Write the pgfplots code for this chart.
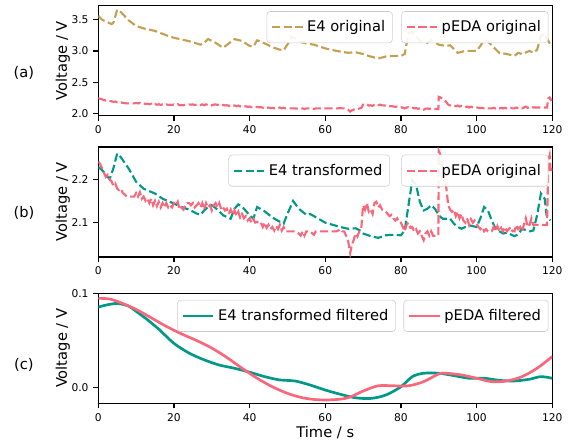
\documentclass[border=0pt]{standalone}
\usepackage{fontspec}
\setmainfont{DejaVu Sans}
\usepackage{pgfplots}
\pgfplotsset{compat=1.18}
\definecolor{cgold}{RGB}{196,160,84}
\definecolor{cteal}{RGB}{0,153,136}
\definecolor{cpink}{RGB}{250,102,122}

\pgfplotsset{
  panel/.style={
    scale only axis, width=340.5pt, height=82.5pt,
    anchor=north west,
    xmin=0, xmax=120, xtick={0,20,...,120},
    axis line style={line width=0.9pt},
    every tick/.style={black, line width=0.9pt},
    tick align=outside, major tick length=3.8pt,
    tick pos=left,
    /pgf/number format/assume math mode=true,
    tick label style={font=\fontsize{8}{9}\selectfont},
    clip mode=individual,
    legend cell align=left,
    legend image code/.code={\draw[##1] (0pt,0pt) -- (23pt,0pt);},
    legend style={anchor=north east, draw=black!20, rounded corners=2.5pt,
      fill=white, fill opacity=0.9, text opacity=1,
      font=\fontsize{11}{13}\selectfont, inner xsep=3pt, inner ysep=4.3pt,
      nodes={inner sep=2.5pt}},
    ylabel style={font=\fontsize{11}{13}\selectfont},
  },
  over/.style={panel, hide axis},
  dsh/.style={line width=1.6pt, dash pattern=on 6.2pt off 2.6pt},
  sld/.style={line width=2pt},
}

\pgfplotstableread{
t v
0 3.563
1 3.50
3.5 3.43
4 3.45
5 3.66
6 3.62
8 3.49
10 3.40
12 3.36
15 3.32
18 3.25
20 3.21
23 3.17
25 3.14
27 3.10
28 3.13
29 3.19
31 3.13
33 3.05
34.5 3.12
36 3.19
38 3.16
40 3.08
41 3.07
42 3.17
44 3.12
46 3.06
48 3.02
49 3.01
50.5 3.15
51 3.23
52 3.20
53 3.15
55 3.12
57 3.10
60 3.04
63 3.00
66 2.97
68 2.98
70 2.95
72 2.91
74 2.88
76 2.91
78 2.92
80 2.92
81 2.95
82 3.29
83 3.30
85 3.16
87 3.13
88 3.17
90 3.10
92 3.08
93 3.09
95 2.97
97 3.00
100 3.00
101 3.08
102 3.18
103 3.15
105 3.03
106 2.97
108 2.95
110 2.92
111 2.97
112 2.95
114 3.00
115 2.97
116 3.02
117 3.24
118 3.27
119.5 3.10
}\EfourOrig

\pgfplotstableread{
t v
0 2.228
1 2.221
3 2.200
4 2.225
5 2.259
6 2.250
8 2.225
10 2.194
12 2.178
15 2.167
17 2.155
20 2.144
22 2.136
24 2.130
26 2.121
27 2.118
28 2.128
29 2.136
30 2.140
31 2.134
33 2.117
35 2.109
36 2.132
37 2.142
38 2.137
40 2.117
41 2.109
42 2.136
44 2.126
46 2.112
48 2.102
49 2.098
50 2.120
51.5 2.150
53 2.132
55 2.118
56 2.120
58 2.110
60 2.100
62 2.095
64 2.090
66 2.086
68 2.087
69 2.083
70 2.075
72 2.069
74 2.065
76 2.071
78 2.072
80 2.071
81 2.082
82 2.140
83 2.198
84 2.187
85 2.148
86 2.128
87 2.132
88 2.140
89 2.132
90 2.117
91 2.109
93 2.109
94 2.098
95 2.090
96 2.086
98 2.094
100 2.090
101 2.110
102 2.136
103 2.128
104 2.105
105 2.086
107 2.075
108 2.077
110 2.069
111 2.073
112 2.086
114 2.080
115 2.082
116 2.117
117 2.167
118 2.155
118.5 2.117
119.5 2.105
}\EfourTrans

\pgfplotstableread{
t v
0 2.240
0.5 2.235
1 2.225
1.5 2.215
2 2.205
2.5 2.210
3 2.200
3.5 2.195
4 2.185
4.5 2.190
5 2.178
5.5 2.175
6 2.178
6.5 2.168
7 2.165
7.5 2.160
8 2.160
9 2.160
9.5 2.160
10 2.168
10.5 2.160
11 2.170
11.5 2.155
12 2.160
12.5 2.150
13 2.155
13.5 2.145
14 2.155
14.5 2.140
15 2.150
15.5 2.138
16 2.148
16.5 2.135
17 2.145
17.5 2.135
18 2.145
18.5 2.135
19 2.140
19.5 2.135
20 2.145
20.5 2.140
21 2.148
21.5 2.130
22 2.135
22.5 2.130
23 2.140
23.5 2.145
24 2.145
24.5 2.140
25 2.145
25.5 2.135
26 2.140
26.5 2.145
27 2.135
27.5 2.145
28 2.130
28.5 2.145
29 2.135
29.5 2.140
30 2.128
30.5 2.140
31 2.145
31.5 2.135
32 2.145
32.5 2.130
33 2.135
33.5 2.128
34 2.132
34.5 2.120
35 2.130
35.5 2.118
36 2.128
36.5 2.115
37 2.125
37.5 2.112
38 2.120
38.5 2.110
39 2.115
39.5 2.105
40 2.110
40.5 2.100
41 2.108
41.5 2.100
42 2.102
42.5 2.098
43 2.100
43.5 2.090
44 2.100
44.5 2.088
45 2.095
45.5 2.085
46 2.090
46.5 2.082
47 2.092
47.5 2.085
48 2.095
48.5 2.082
49 2.090
49.5 2.080
50 2.080
51 2.080
52 2.080
53 2.075
53.5 2.070
54 2.080
54.5 2.070
55 2.080
56 2.080
57 2.072
57.5 2.080
58 2.080
60 2.080
62 2.080
63 2.080
64 2.085
64.5 2.080
65 2.080
65.5 2.070
66 2.060
66.3 2.045
66.6 2.030
67 2.048
67.5 2.060
68 2.075
68.5 2.068
69 2.080
69.5 2.085
70 2.140
70.5 2.130
71 2.145
71.5 2.125
72 2.130
72.5 2.120
73 2.145
73.5 2.148
74 2.135
74.5 2.140
75 2.130
75.5 2.128
76 2.125
76.5 2.120
77 2.115
77.5 2.118
78 2.110
78.5 2.105
79 2.110
79.5 2.100
80 2.100
80.5 2.090
81 2.080
81.5 2.095
82 2.100
82.5 2.088
83 2.090
83.5 2.080
84 2.085
84.5 2.075
85 2.080
85.5 2.070
86 2.060
86.5 2.075
87 2.080
87.5 2.070
88 2.080
88.5 2.070
89 2.070
89.9 2.070
90 2.265
90.5 2.255
91 2.230
91.5 2.215
92 2.180
92.5 2.140
93 2.130
93.5 2.125
94 2.130
94.5 2.115
95 2.125
95.5 2.110
96 2.120
96.5 2.105
97 2.100
97.5 2.110
98 2.095
98.5 2.108
99 2.100
99.5 2.105
100 2.098
100.5 2.090
101 2.085
101.5 2.090
102 2.080
102.5 2.085
103 2.080
104 2.080
104.5 2.090
105 2.080
105.5 2.092
106 2.080
106.5 2.088
107 2.080
107.5 2.090
108 2.080
109 2.090
109.5 2.080
110 2.080
110.5 2.095
111 2.085
111.5 2.090
112 2.080
112.5 2.095
113 2.110
113.5 2.090
114 2.095
114.5 2.110
115 2.095
116 2.095
117 2.095
118.6 2.095
119 2.245
119.3 2.255
119.6 2.215
120 2.225
}\pEDAOrig

\pgfplotstableread{
t v
0 0.0854
2 0.0875
5 0.0893
8 0.0865
10 0.0810
13 0.0720
16 0.0620
20 0.0470
24 0.0367
28 0.0295
32 0.0240
36 0.0206
40 0.0164
44 0.0117
48 0.0082
52 0.0071
56 0.0028
60 -0.0025
64 -0.0070
68 -0.0107
72 -0.0114
76 -0.0078
80 0.0010
83 0.0117
86 0.0153
90 0.0153
94 0.0128
98 0.0100
102 0.0100
106 0.0078
110 0.0071
114 0.0090
117 0.0117
120 0.0100
}\EfourFilt

\pgfplotstableread{
t v
0 0.0947
3 0.0940
6 0.0900
10 0.0830
14 0.0740
18 0.0650
22 0.0570
26 0.0500
30 0.0420
34 0.0320
38 0.0206
42 0.0100
46 0.0010
50 -0.0060
54 -0.0107
58 -0.0128
62 -0.0128
66 -0.0107
70 -0.0036
74 0.0020
78 0.0020
82 0.0020
86 0.0064
90 0.0146
92 0.0153
96 0.0135
100 0.0100
104 0.0064
108 0.0071
112 0.0117
116 0.0206
120 0.0330
}\pEDAFilt

\begin{document}
\begin{tikzpicture}
\useasboundingbox (0,0) rectangle (434.25pt,-333pt);

% ---------- (a)
\begin{axis}[panel, at={(73.7pt,-4.3pt)},
  ymin=1.963, ymax=3.723, ytick={2.0,2.5,3.0,3.5},
  yticklabel style={/pgf/number format/.cd,fixed,fixed zerofill,precision=1},
  ylabel={Voltage / V},
  ylabel style={at={(rel axis cs:-0.0778,0.5)}, anchor=center},
  legend style={at={(rel axis cs:0.6485,0.95)}}]
\addplot[cgold, dsh] table[x=t,y=v]{\EfourOrig};
\addlegendentry{E4 original}
\addplot[cpink, dsh, forget plot] table[x=t,y=v]{\pEDAOrig};
\node[font=\fontsize{11}{13}\selectfont] at (rel axis cs:-0.1637,0.39) {(a)};
\end{axis}
\begin{axis}[over, at={(73.7pt,-4.3pt)}, ymin=1.963, ymax=3.723,
  legend style={at={(rel axis cs:0.9916,0.95)}}]
\addlegendimage{cpink, dsh}
\addlegendentry{pEDA original}
\end{axis}

% ---------- (b)
\begin{axis}[panel, at={(73.7pt,-110.25pt)},
  ymin=2.021, ymax=2.274, ytick={2.1,2.2},
  yticklabel style={/pgf/number format/.cd,fixed,fixed zerofill,precision=1},
  ylabel={Voltage / V},
  ylabel style={at={(rel axis cs:-0.0778,0.5)}, anchor=center},
  legend style={at={(rel axis cs:0.6425,0.93)}}]
\addplot[cteal, dsh] table[x=t,y=v]{\EfourTrans};
\addlegendentry{E4 transformed}
\addplot[cpink, dsh, forget plot] table[x=t,y=v]{\pEDAOrig};
\node[font=\fontsize{11}{13}\selectfont] at (rel axis cs:-0.1637,0.40) {(b)};
\end{axis}
\begin{axis}[over, at={(73.7pt,-110.25pt)}, ymin=2.021, ymax=2.274,
  legend style={at={(rel axis cs:0.9916,0.93)}}]
\addlegendimage{cpink, dsh}
\addlegendentry{pEDA original}
\end{axis}

% ---------- (c)
\begin{axis}[panel, at={(73.7pt,-220pt)},
  ymin=-0.0166, ymax=0.1, ytick={0,0.1},
  yticklabel style={/pgf/number format/.cd,fixed,fixed zerofill,precision=1},
  ylabel={Voltage / V},
  ylabel style={at={(rel axis cs:-0.0778,0.5)}, anchor=center},
  xlabel={Time / s},
  xlabel style={at={(rel axis cs:0.5,-0.27)}, anchor=center, font=\fontsize{11}{13}\selectfont},
  legend style={at={(rel axis cs:0.6557,0.94)}}]
\addplot[cteal, sld, smooth] table[x=t,y=v]{\EfourFilt};
\addlegendentry{E4 transformed filtered}
\addplot[cpink, sld, smooth, forget plot] table[x=t,y=v]{\pEDAFilt};
\node[font=\fontsize{11}{13}\selectfont] at (rel axis cs:-0.1637,0.35) {(c)};
\end{axis}
\begin{axis}[over, at={(73.7pt,-220pt)}, ymin=-0.0166, ymax=0.1,
  legend style={at={(rel axis cs:0.9916,0.94)}}]
\addlegendimage{cpink, sld}
\addlegendentry{pEDA filtered}
\end{axis}
\end{tikzpicture}
\end{document}
